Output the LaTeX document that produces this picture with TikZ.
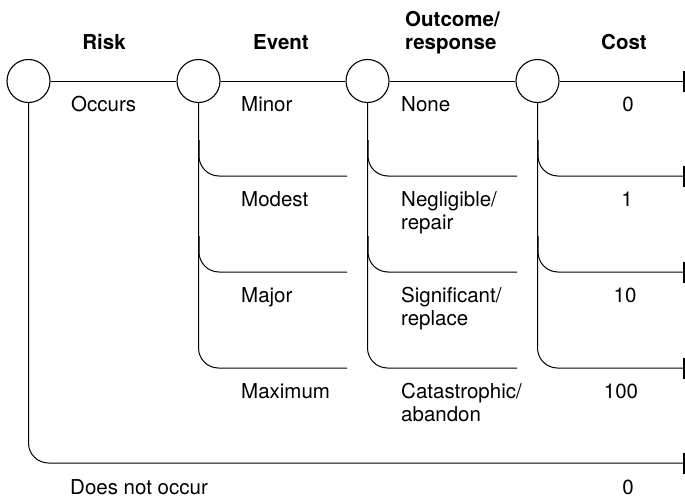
\documentclass[tikz,border=0pt]{standalone}
\usepackage{fontspec}
\setmainfont{TeX Gyre Heros}
\usetikzlibrary{arrows.meta}
\begin{document}
\begin{tikzpicture}[x=1pt,y=-1pt,
  dec/.style={circle,draw,line width=1.1pt,minimum size=43pt,inner sep=0pt},
  ln/.style={line width=1pt},
  br/.style={line width=1pt,rounded corners=20pt},
  endtick/.style={-{Bar[width=21pt,line width=2pt]}},
  lbl/.style={anchor=base west,inner sep=0pt,font=\fontsize{20.5}{22.5}\selectfont,align=left},
  num/.style={anchor=base,inner sep=0pt,font=\fontsize{20.5}{22.5}\selectfont},
  hdr/.style={anchor=base,inner sep=0pt,font=\fontsize{20.5}{22}\selectfont\bfseries}]
\useasboundingbox (0,0) rectangle (685,503);
% decision/chance nodes
\node[dec] (r) at (28.5,81) {};
\node[dec] (e) at (198.5,81) {};
\node[dec] (o) at (367.5,81) {};
\node[dec] (c) at (537.5,81) {};
% end points
\coordinate (t1) at (685,81);
\coordinate (t2) at (685,176);
\coordinate (t3) at (685,272);
\coordinate (t4) at (685,368);
\coordinate (t5) at (685,463);
% top row
\draw[ln] (r) -- (e);
\draw[ln] (e) -- (o);
\draw[ln] (o) -- (c);
\draw[ln,endtick] (c) -- (t1);
% risk does not occur
\draw[br,endtick] (r.south) |- (t5);
% event branches
\draw[br] (e.south) |- (347,368);
\draw[br] (199,140) |- (347,176);
\draw[br] (199,236) |- (347,272);
% outcome branches
\draw[br] (o.south) |- (517,368);
\draw[br] (368,140) |- (517,176);
\draw[br] (368,236) |- (517,272);
% cost branches
\draw[br,endtick] (c.south) |- (t4);
\draw[br,endtick] (538,140) |- (t2);
\draw[br,endtick] (538,236) |- (t3);
% headers
\node[hdr] (hrisk) at (104,49) {Risk};
\node[hdr] (hevent) at (281,49) {Event};
\node[hdr,anchor=base west] (hout1) at (405,27) {Outcome/};
\node[hdr,anchor=base west] (hout2) at (405,49) {response};
\node[hdr] (hcost) at (624,49) {Cost};
% labels
\node[lbl] (occ) at (71,111) {Occurs};
\node[lbl] (ev1) at (241,111) {Minor};
\node[lbl] (ev2) at (241,206) {Modest};
\node[lbl] (ev3) at (241,302) {Major};
\node[lbl] (ev4) at (241,398) {Maximum};
\node[lbl] (oc1) at (401,111) {None};
\node[lbl] (oc2) at (401,229) {Negligible/\\repair};
\node[lbl] (oc3) at (401,325) {Significant/\\replace};
\node[lbl] (oc4) at (401,421) {Catastrophic/\\abandon};
\node[num] (co1) at (628,111) {0};
\node[num] (co2) at (627,206) {1};
\node[num] (co3) at (625,302) {10};
\node[num] (co4) at (621,398) {100};
\node[lbl] (dno) at (70,494) {Does not occur};
\node[num] (co5) at (628,494) {0};
\end{tikzpicture}
\end{document}
